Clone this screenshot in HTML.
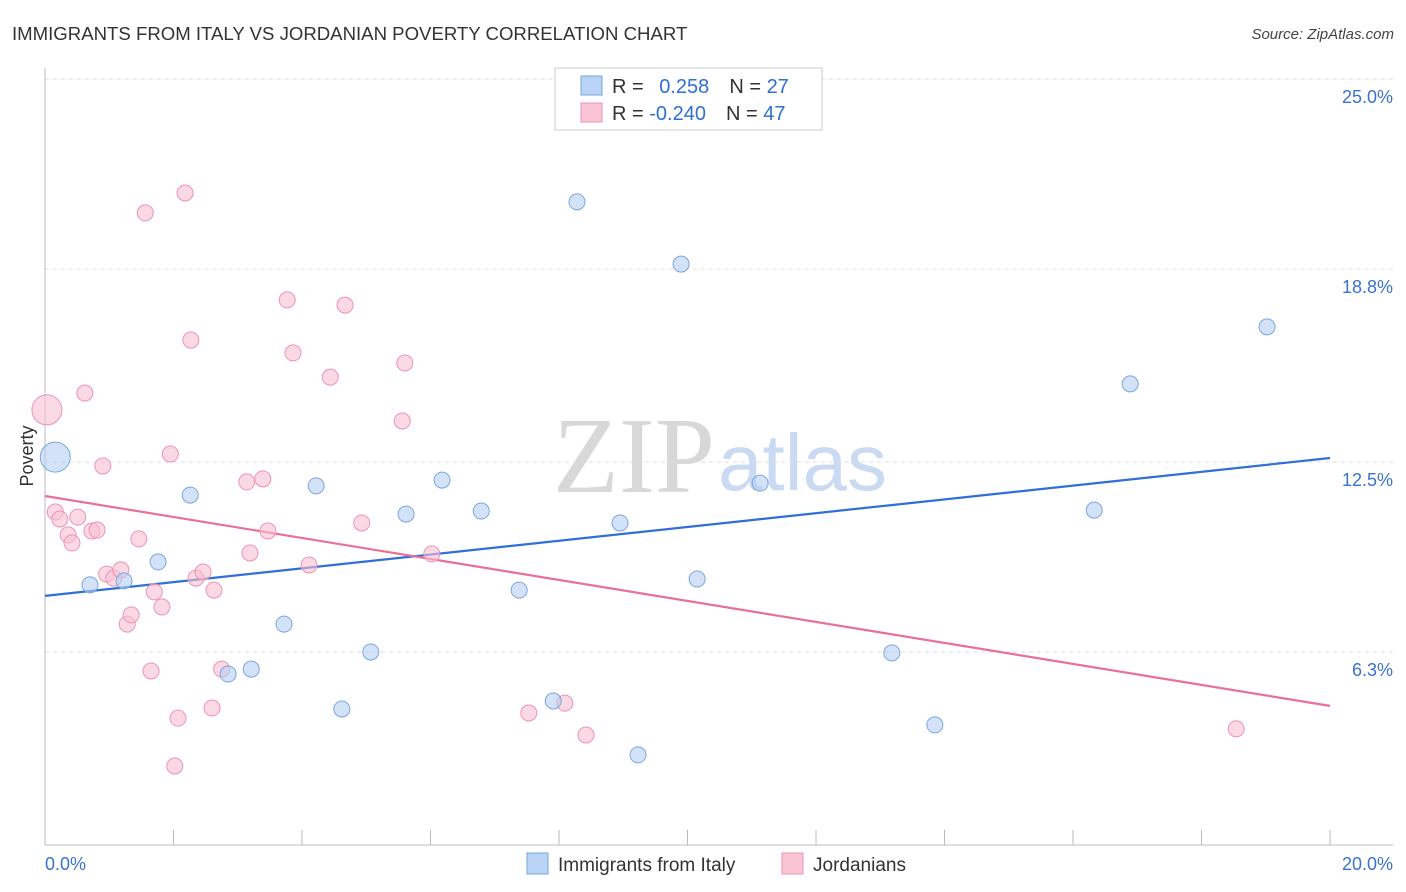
<!DOCTYPE html>
<html><head><meta charset="utf-8"><style>
body{margin:0;background:#fff;font-family:"Liberation Sans",sans-serif;}
#wrap{position:relative;width:1406px;height:892px;overflow:hidden;}
</style></head><body>
<div id="wrap">
<svg id="chart" width="1406" height="892" xmlns="http://www.w3.org/2000/svg">
<text x="12" y="40" font-size="18.6" fill="#333">IMMIGRANTS FROM ITALY VS JORDANIAN POVERTY CORRELATION CHART</text>
<text x="1394" y="39" font-size="15" fill="#444" font-style="italic" text-anchor="end">Source: ZipAtlas.com</text>
<g>
<text x="553" y="492" font-family="Liberation Serif,serif" font-size="108" fill="#d8d8d8">ZIP</text>
<text x="718" y="490" font-size="80" fill="#c9daf2">atlas</text>
</g>
<g id="grid"></g>
<g id="axes"></g>
<g id="lines"></g>
<g id="pts"></g>
<g>
<rect x="555" y="68" width="267" height="62" fill="#fff" stroke="#ccc"/>
<rect x="581" y="76" width="21" height="19" fill="#b9d3f4" stroke="#7aa6e0"/>
<rect x="581" y="103" width="21" height="19" fill="#f9c5d5" stroke="#ee93b1"/>
<text x="612" y="93" font-size="20" fill="#333">R = <tspan fill="#2f6fd6" dx="10">0.258</tspan><tspan dx="20" fill="#333">N = </tspan><tspan fill="#2f6fd6">27</tspan></text>
<text x="612" y="120" font-size="20" fill="#333">R = <tspan fill="#2f6fd6">-0.240</tspan><tspan dx="20" fill="#333">N = </tspan><tspan fill="#2f6fd6">47</tspan></text>
</g>
<g>
<rect x="527" y="853" width="21" height="21" fill="#b9d3f4" stroke="#7aa6e0"/>
<text x="558" y="871" font-size="19" fill="#333">Immigrants from Italy</text>
<rect x="782" y="853" width="21" height="21" fill="#f9c5d5" stroke="#ee93b1"/>
<text x="813" y="871" font-size="19" fill="#333">Jordanians</text>
</g>
<text x="33" y="456" font-size="18" fill="#333" transform="rotate(-90 33 456)" text-anchor="middle">Poverty</text>
</svg>
</div>
<script>
const yTicks=[25.0,18.8,12.5,6.3];
const yTickLabels=["25.0%","18.8%","12.5%","6.3%"];
const xTicks=[0,2,4,6,8,10,12,14,16,18,20];
const xEndLabels=["0.0%","20.0%"];
const italyX=[0.16,0.70,1.23,1.76,2.26,2.85,3.21,3.72,4.22,4.62,5.07,5.62,6.18,6.79,7.38,7.91,8.28,8.95,9.23,9.90,10.15,11.13,13.18,13.85,16.33,16.89,19.02];
const italyY=[12.66,8.49,8.62,9.24,11.42,5.58,5.74,7.21,11.72,4.44,6.30,10.80,11.91,10.90,8.32,4.70,20.99,10.51,2.94,18.96,8.68,11.81,6.27,3.92,10.93,15.05,16.91];
const jordX=[0.03,0.16,0.23,0.36,0.42,0.51,0.62,0.73,0.81,0.90,0.96,1.07,1.18,1.28,1.34,1.46,1.56,1.70,1.65,1.82,1.95,2.07,2.02,2.18,2.27,2.35,2.46,2.60,2.63,2.75,3.14,3.19,3.39,3.47,3.77,3.86,4.11,4.44,4.67,4.93,5.56,5.60,6.02,7.53,8.09,8.42,18.54];
const jordY=[14.20,10.87,10.64,10.12,9.86,10.70,14.75,10.25,10.28,12.37,8.84,8.71,8.98,7.21,7.51,9.99,20.63,8.26,5.68,7.77,12.76,4.14,2.58,21.28,16.48,8.71,8.91,4.47,8.32,5.74,11.85,9.53,11.95,10.25,17.79,16.06,9.14,15.27,17.62,10.51,13.84,15.73,9.50,4.31,4.63,3.59,3.79];
const italyBig=[0];
const jordBig=[0];
const italyTrend=[8.13,12.63];
const jordTrend=[11.39,4.54];
const trendX=[0,20];

const NS="http://www.w3.org/2000/svg";
const X=v=>45+v*(1330-45)/20;
const Y=v=>845-v*(845-79)/25;
function mk(tag,attrs,parent){const e=document.createElementNS(NS,tag);for(const k in attrs)e.setAttribute(k,attrs[k]);document.getElementById(parent).appendChild(e);return e;}
yTicks.forEach((t,i)=>{
 const g=mk('line',{x1:45,x2:1393,y1:Y(t),y2:Y(t),stroke:'#ddd','stroke-dasharray':'4,4'},'grid');
 
 
 const l=mk('text',{x:1393,y:Y(t)+24,'font-size':18,fill:'#3a72d0','text-anchor':'end'},'grid');
 l.textContent=yTickLabels[i];
 
 
});
const ax=mk('line',{x1:45,x2:45,y1:68,y2:845,stroke:'#bbb'},'axes');


const bx=mk('line',{x1:45,x2:1393,y1:845,y2:845,stroke:'#bbb'},'axes');


xTicks.forEach(t=>{
 const tk=mk('line',{x1:X(t),x2:X(t),y1:830,y2:845,stroke:'#bbb'},'axes');
 
 
});
[[0,'start',45],[1,'end',1393]].forEach(([i,a,x])=>{
 const l=mk('text',{x:x,y:870,'font-size':18,fill:'#3a72d0','text-anchor':a},'axes');
 l.textContent=xEndLabels[i];
 
 
});
function pts(xs,ys,big,fill,stroke,name){
 xs.forEach((x,i)=>{
  const r=big.includes(i)?15:8;
  const c=mk('circle',{cx:X(x),cy:Y(ys[i]),r:r,fill:fill,'fill-opacity':0.6,stroke:stroke,'stroke-width':1},'pts');
  
  
 });
}
pts(jordX,jordY,jordBig,'#f8c0d2','#ee93b1','point-jordanians');
pts(italyX,italyY,italyBig,'#b5cff2','#7aa6e0','point-italy');
const l1=mk('line',{x1:X(trendX[0]),y1:Y(italyTrend[0]),x2:X(trendX[1]),y2:Y(italyTrend[1]),stroke:'#2f6fd6','stroke-width':2.2},'lines');


const l2=mk('line',{x1:X(trendX[0]),y1:Y(jordTrend[0]),x2:X(trendX[1]),y2:Y(jordTrend[1]),stroke:'#e8709a','stroke-width':2.2},'lines');


</script>
</body></html>
